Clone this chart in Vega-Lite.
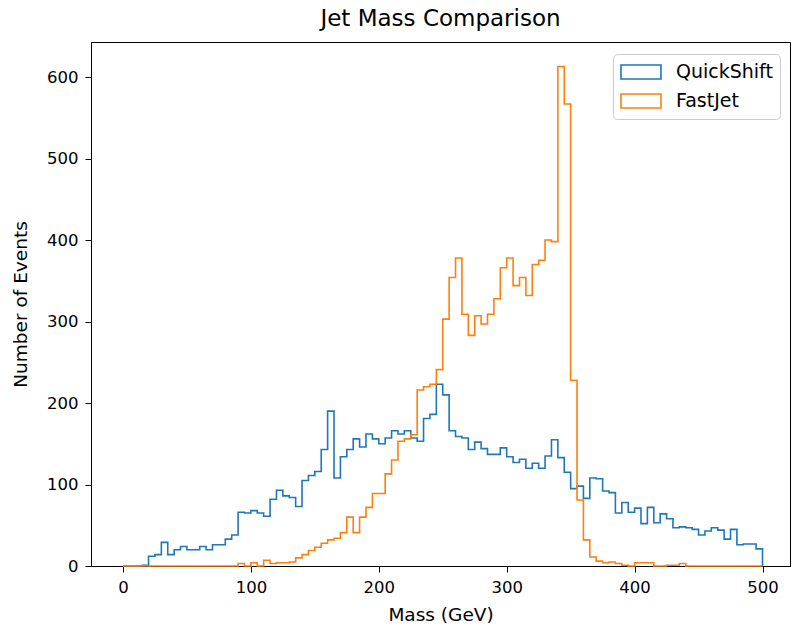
{
  "$schema": "https://vega.github.io/schema/vega-lite/v6.json",
  "width": 699,
  "height": 524,
  "autosize": {"type": "none"},
  "padding": {"left": 91, "top": 42, "right": 2, "bottom": 60},
  "background": "white",
  "title": {"text": "Jet Mass Comparison", "font": "DejaVu Sans", "fontSize": 23, "fontWeight": "normal", "color": "black", "offset": 11, "anchor": "middle"},
  "config": {
    "view": {"stroke": "black", "strokeWidth": 1},
    "axis": {"grid": false, "domainColor": "black", "tickColor": "black", "labelColor": "black", "titleColor": "black", "labelFont": "DejaVu Sans", "titleFont": "DejaVu Sans", "labelFontSize": 16.5, "titleFontSize": 18.5, "titleFontWeight": "normal", "tickSize": 6, "labelPadding": 7, "domainWidth": 1, "tickWidth": 1},
    "legend": {"labelFont": "DejaVu Sans", "labelFontSize": 19, "labelColor": "black"}
  },
  "data": {"values": [
    {"m":0,"QuickShift":0,"FastJet":0},{"m":5,"QuickShift":0,"FastJet":0},{"m":10,"QuickShift":0,"FastJet":0},{"m":15,"QuickShift":1,"FastJet":0},
    {"m":20,"QuickShift":12,"FastJet":0},{"m":25,"QuickShift":14,"FastJet":0},{"m":30,"QuickShift":29,"FastJet":0},{"m":35,"QuickShift":14,"FastJet":0},
    {"m":40,"QuickShift":20,"FastJet":0},{"m":45,"QuickShift":24,"FastJet":0},{"m":50,"QuickShift":20,"FastJet":0},{"m":55,"QuickShift":20,"FastJet":0},
    {"m":60,"QuickShift":24,"FastJet":0},{"m":65,"QuickShift":20,"FastJet":0},{"m":70,"QuickShift":26,"FastJet":0},{"m":75,"QuickShift":26,"FastJet":0},
    {"m":80,"QuickShift":33,"FastJet":0},{"m":85,"QuickShift":38,"FastJet":0},{"m":90,"QuickShift":66,"FastJet":3},{"m":95,"QuickShift":65,"FastJet":0},
    {"m":100,"QuickShift":68,"FastJet":4},{"m":105,"QuickShift":65,"FastJet":0},{"m":110,"QuickShift":61,"FastJet":7},{"m":115,"QuickShift":82,"FastJet":3},
    {"m":120,"QuickShift":93,"FastJet":4},{"m":125,"QuickShift":86,"FastJet":4},{"m":130,"QuickShift":84,"FastJet":5},{"m":135,"QuickShift":73,"FastJet":10},
    {"m":140,"QuickShift":105,"FastJet":14},{"m":145,"QuickShift":111,"FastJet":19},{"m":150,"QuickShift":116,"FastJet":23},{"m":155,"QuickShift":143,"FastJet":28},
    {"m":160,"QuickShift":190,"FastJet":32},{"m":165,"QuickShift":108,"FastJet":34},{"m":170,"QuickShift":134,"FastJet":41},{"m":175,"QuickShift":143,"FastJet":60},
    {"m":180,"QuickShift":156,"FastJet":41},{"m":185,"QuickShift":146,"FastJet":60},{"m":190,"QuickShift":162,"FastJet":72},{"m":195,"QuickShift":156,"FastJet":89},
    {"m":200,"QuickShift":150,"FastJet":89},{"m":205,"QuickShift":157,"FastJet":113},{"m":210,"QuickShift":166,"FastJet":130},{"m":215,"QuickShift":162,"FastJet":153},
    {"m":220,"QuickShift":166,"FastJet":156},{"m":225,"QuickShift":157,"FastJet":161},{"m":230,"QuickShift":153,"FastJet":216},{"m":235,"QuickShift":181,"FastJet":220},
    {"m":240,"QuickShift":186,"FastJet":223},{"m":245,"QuickShift":223,"FastJet":241},{"m":250,"QuickShift":210,"FastJet":303},{"m":255,"QuickShift":166,"FastJet":354},
    {"m":260,"QuickShift":159,"FastJet":378},{"m":265,"QuickShift":157,"FastJet":309},{"m":270,"QuickShift":143,"FastJet":283},{"m":275,"QuickShift":152,"FastJet":307},
    {"m":280,"QuickShift":144,"FastJet":297},{"m":285,"QuickShift":137,"FastJet":309},{"m":290,"QuickShift":137,"FastJet":328},{"m":295,"QuickShift":145,"FastJet":366},
    {"m":300,"QuickShift":134,"FastJet":378},{"m":305,"QuickShift":127,"FastJet":344},{"m":310,"QuickShift":131,"FastJet":354},{"m":315,"QuickShift":120,"FastJet":332},
    {"m":320,"QuickShift":126,"FastJet":370},{"m":325,"QuickShift":120,"FastJet":375},{"m":330,"QuickShift":135,"FastJet":400},{"m":335,"QuickShift":155,"FastJet":398},
    {"m":340,"QuickShift":133,"FastJet":613},{"m":345,"QuickShift":115,"FastJet":567},{"m":350,"QuickShift":95,"FastJet":228},{"m":355,"QuickShift":98,"FastJet":81},
    {"m":360,"QuickShift":83,"FastJet":32},{"m":365,"QuickShift":108,"FastJet":11},{"m":370,"QuickShift":107,"FastJet":6},{"m":375,"QuickShift":92,"FastJet":4},
    {"m":380,"QuickShift":90,"FastJet":5},{"m":385,"QuickShift":65,"FastJet":3},{"m":390,"QuickShift":78,"FastJet":1},{"m":395,"QuickShift":66,"FastJet":0},
    {"m":400,"QuickShift":71,"FastJet":4},{"m":405,"QuickShift":52,"FastJet":4},{"m":410,"QuickShift":72,"FastJet":4},{"m":415,"QuickShift":53,"FastJet":0},
    {"m":420,"QuickShift":64,"FastJet":0},{"m":425,"QuickShift":58,"FastJet":1},{"m":430,"QuickShift":47,"FastJet":1},{"m":435,"QuickShift":48,"FastJet":3},
    {"m":440,"QuickShift":47,"FastJet":0},{"m":445,"QuickShift":45,"FastJet":0},{"m":450,"QuickShift":38,"FastJet":0},{"m":455,"QuickShift":43,"FastJet":0},
    {"m":460,"QuickShift":47,"FastJet":0},{"m":465,"QuickShift":44,"FastJet":0},{"m":470,"QuickShift":33,"FastJet":0},{"m":475,"QuickShift":45,"FastJet":0},
    {"m":480,"QuickShift":26,"FastJet":0},{"m":485,"QuickShift":27,"FastJet":0},{"m":490,"QuickShift":27,"FastJet":0},{"m":495,"QuickShift":21,"FastJet":0},
    {"m":500,"QuickShift":0,"FastJet":0}
  ]},
  "transform": [{"fold": ["QuickShift", "FastJet"], "as": ["series", "count"]}],
  "mark": {"type": "line", "interpolate": "step-after", "strokeWidth": 1.6, "strokeJoin": "miter"},
  "encoding": {
    "x": {"field": "m", "type": "quantitative", "title": "Mass (GeV)",
          "scale": {"domain": [-25, 521.5], "nice": false, "zero": false},
          "axis": {"values": [0, 100, 200, 300, 400, 500], "titlePadding": 10}},
    "y": {"field": "count", "type": "quantitative", "title": "Number of Events",
          "scale": {"domain": [0, 643], "nice": false},
          "axis": {"values": [0, 100, 200, 300, 400, 500, 600], "titlePadding": 16}},
    "color": {"field": "series", "type": "nominal",
              "scale": {"domain": ["QuickShift", "FastJet"], "range": ["#1f77b4", "#ff7f0e"]},
              "legend": {"title": null, "orient": "none", "legendX": 522, "legendY": 12,
                         "symbolType": "M-1,-0.7L3,-0.7L3,0.7L-1,0.7Z", "symbolSize": 400,
                         "symbolFillColor": "white", "symbolStrokeWidth": 1.6,
                         "labelOffset": 34, "rowPadding": 7, "padding": 7,
                         "strokeColor": "#cccccc", "fillColor": "white", "cornerRadius": 4}}
  }
}
